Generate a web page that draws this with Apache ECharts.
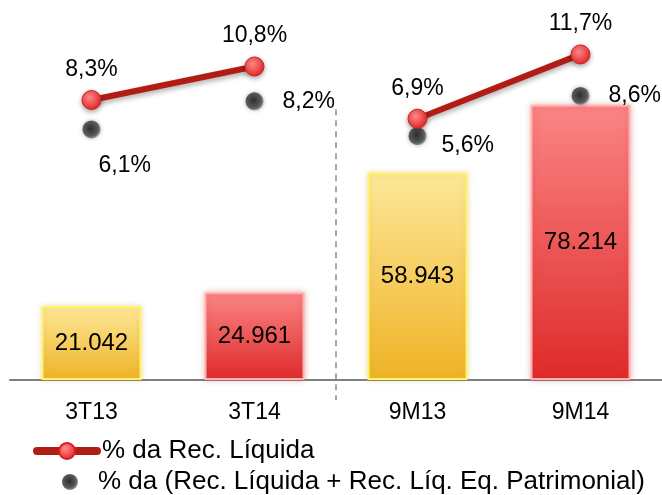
<!DOCTYPE html>
<html>
<head>
<meta charset="utf-8">
<script src="https://cdn.jsdelivr.net/npm/echarts@6/dist/echarts.min.js"></script>
<style>
html,body{margin:0;padding:0;background:#fff;}
#main{width:662px;height:495px;}
</style>
</head>
<body>
<div id="main"></div>
<script>
// categorias e valores
var categorias = ['3T13', '3T14', '9M13', '9M14'];
var receita = [21.042, 24.961, 58.943, 78.214];
var pctRecLiquida = [8.3, 10.8, 6.9, 11.7];
var pctRecLiqEq = [6.1, 8.2, 5.6, 8.6];
var nomeLinha = '% da Rec. Líquida';
var nomePontos = '% da (Rec. Líquida + Rec. Líq. Eq. Patrimonial)';

var fonte = '"Liberation Sans", Arial, sans-serif';

/* ------------------------------ estilos ------------------------------ */
function corBarra(i) {
	// amarelo para 2013, vermelho para 2014
	if (i % 2 == 0) {
		return {
			color: new echarts.graphic.LinearGradient(0, 0, 0, 1, [
				{offset: 0, color: '#fde89a'},
				{offset: 1, color: '#efb325'}
			]),
			borderColor: '#fff36a',
			borderWidth: 2,
			shadowColor: 'rgba(200,170,60,0.35)',
			shadowBlur: 6
		};
	}
	return {
		color: new echarts.graphic.LinearGradient(0, 0, 0, 1, [
			{offset: 0, color: '#fb8585'},
			{offset: 1, color: '#df2a2a'}
		]),
		borderColor: '#ffb0b0',
		borderWidth: 2,
		shadowColor: 'rgba(200,60,60,0.35)',
		shadowBlur: 6
	};
}

var dadosBarra = [];
for (var i = 0; i < receita.length; i++) {
	dadosBarra.push({value: receita[i], itemStyle: corBarra(i)});
}

// linha quebrada entre trimestre e acumulado
var linha1 = [pctRecLiquida[0], pctRecLiquida[1], null, null];
var linha2 = [null, null, pctRecLiquida[2], pctRecLiquida[3]];

// deslocamento dos rótulos cinzas
var deslocCinza = [[-21, 36], [0, 0], [-4, 10], [0, 0]];
var dadosCinza = [];
for (var i = 0; i < pctRecLiqEq.length; i++) {
	dadosCinza.push({value: pctRecLiqEq[i], label: {offset: deslocCinza[i]}});
}

function fmtPct(p) {
	return p.value.toFixed(1).replace('.', ',') + '%';
}

var marcadorVermelho = {
	color: new echarts.graphic.RadialGradient(0.4, 0.35, 0.7, [
		{offset: 0, color: '#ff8a8a'},
		{offset: 1, color: '#e52222'}
	]),
	borderColor: '#d42020',
	borderWidth: 1,
	opacity: 1,
	shadowColor: 'rgba(0,0,0,0.35)',
	shadowBlur: 5,
	shadowOffsetY: 2
};

var estiloLinha = {
	color: '#b11d15',
	width: 6,
	shadowColor: 'rgba(0,0,0,0.3)',
	shadowBlur: 5,
	shadowOffsetY: 3
};

var rotuloLinha = {
	show: true,
	position: 'top',
	distance: 9,
	color: '#000',
	fontSize: 23,
	fontFamily: fonte,
	formatter: fmtPct
};

var chart = echarts.init(document.getElementById('main'));

var option = {
	backgroundColor: '#fff',
	animation: false,
	grid: {left: 10, right: 0, top: 0, bottom: 115, containLabel: false},
	legend: [
		{
			left: 33,
			top: 438,
			padding: 0,
			itemWidth: 60,
			itemHeight: 20,
			lineStyle: {width: 8, color: '#b11d15', cap: 'round'},
			textStyle: {color: '#000', fontSize: 26, fontFamily: fonte},
			data: [nomeLinha]
		},
		{
			left: 62,
			top: 469,
			padding: 0,
			itemWidth: 16,
			itemHeight: 16,
			textStyle: {color: '#000', fontSize: 26, fontFamily: fonte, padding: [0, 0, 0, 15]},
			data: [nomePontos]
		}
	],
	xAxis: {
		type: 'category',
		data: categorias,
		axisLine: {show: true, lineStyle: {color: '#7f7f7f', width: 2}},
		axisTick: {show: false},
		axisLabel: {color: '#000', fontSize: 23, fontFamily: fonte, margin: 21}
	},
	yAxis: [
		{type: 'value', min: 0, max: 108, show: false},
		{type: 'value', min: -12.6, max: 15.76, show: false}
	],
	series: [
		{
			name: 'Receita',
			type: 'bar',
			barWidth: 100,
			data: dadosBarra,
			label: {
				show: true,
				position: 'inside',
				color: '#000',
				fontSize: 24,
				fontFamily: fonte,
				formatter: function (p) { return p.value.toFixed(3); }
			}
		},
		{
			name: nomeLinha,
			type: 'line',
			yAxisIndex: 1,
			data: linha1,
			smooth: true,
			symbol: 'circle',
			symbolSize: 19,
			itemStyle: marcadorVermelho,
			lineStyle: estiloLinha,
			label: rotuloLinha,
			z: 5
		},
		{
			name: nomeLinha,
			type: 'line',
			yAxisIndex: 1,
			data: linha2,
			smooth: true,
			symbol: 'circle',
			symbolSize: 19,
			itemStyle: marcadorVermelho,
			lineStyle: estiloLinha,
			label: rotuloLinha,
			z: 5
		},
		{
			name: nomePontos,
			type: 'scatter',
			yAxisIndex: 1,
			data: dadosCinza,
			symbol: 'circle',
			symbolSize: 18,
			itemStyle: {
				opacity: 1,
				color: new echarts.graphic.RadialGradient(0.45, 0.45, 0.6, [
					{offset: 0, color: '#2e2e2e'},
					{offset: 0.7, color: '#5a5a5a'},
					{offset: 1, color: '#a8a8a8'}
				]),
				shadowColor: 'rgba(0,0,0,0.3)',
				shadowBlur: 4
			},
			label: {
				show: true,
				position: 'right',
				distance: 19,
				color: '#000',
				opacity: 1,
				fontSize: 23,
				fontFamily: fonte,
				formatter: fmtPct
			},
			z: 4
		}
	]
};

chart.setOption(option);

// linha tracejada separando trimestre e acumulado
var p1 = chart.convertToPixel({xAxisIndex: 0, yAxisIndex: 0}, [1, 0]);
var p2 = chart.convertToPixel({xAxisIndex: 0, yAxisIndex: 0}, [2, 0]);
var xSep = (p1[0] + p2[0]) / 2;
var yTopo = chart.convertToPixel({yAxisIndex: 1}, pctRecLiqEq[1]) + 8;
chart.setOption({
	graphic: [{
		type: 'line',
		shape: {x1: xSep, y1: yTopo, x2: xSep, y2: p1[1] + 20},
		style: {stroke: '#8c8c8c', lineWidth: 1.5, lineDash: [6, 5]},
		z: 1
	}]
});
</script>
</body>
</html>
